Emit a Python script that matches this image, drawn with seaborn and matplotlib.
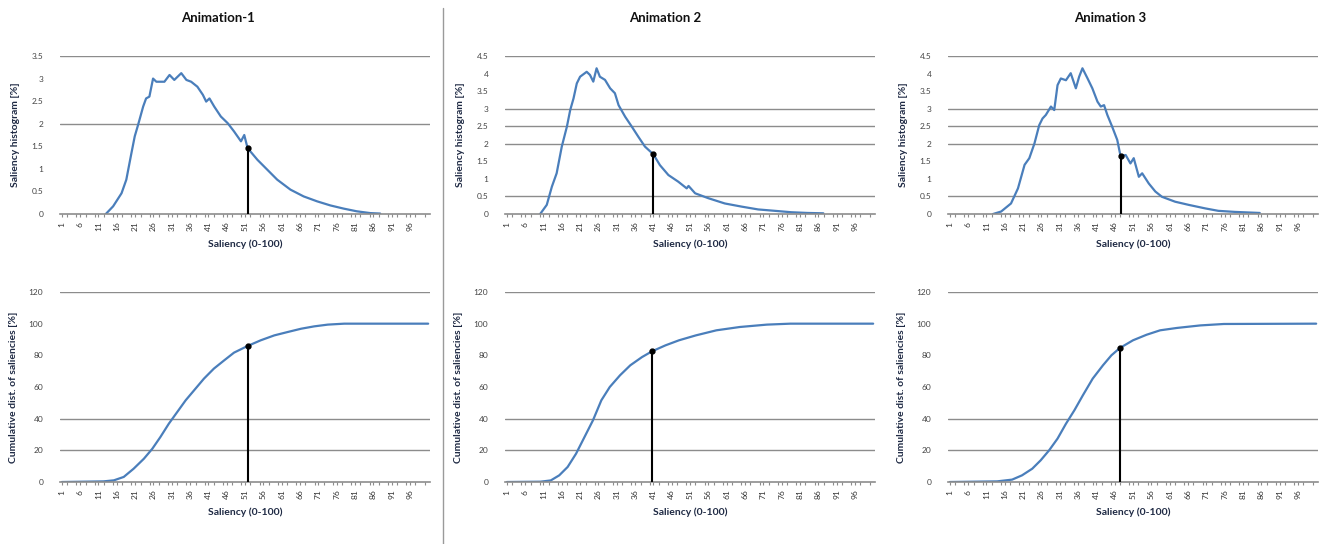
import numpy as np
import pandas as pd
import seaborn as sns
import matplotlib.pyplot as plt
from matplotlib.ticker import MultipleLocator

# ---- data (x = saliency bin, y = value) ----
titles = ["Animation-1", "Animation 2", "Animation 3"]

hist1_x = [13, 15, 17.3, 18.6, 20, 20.9, 21.8, 23.2, 24, 24.9, 25.9, 26.8, 29, 30.4, 31.7, 33.6, 35,
           36.3, 38, 39.5, 40.4, 41.3, 42.6, 44.4, 46.3, 48, 49.9, 50.8, 51.7, 54.4, 57.1, 59.8,
           63.4, 67, 70.7, 74.3, 77.9, 81.5, 85.2, 87.9]
hist1_y = [0, 0.17, 0.46, 0.76, 1.35, 1.72, 1.97, 2.38, 2.56, 2.6, 3.0, 2.93, 2.93, 3.08, 2.97, 3.12,
           2.97, 2.93, 2.82, 2.64, 2.49, 2.56, 2.38, 2.16, 2.01, 1.83, 1.61, 1.75, 1.46, 1.2, 0.98,
           0.76, 0.54, 0.39, 0.28, 0.19, 0.12, 0.06, 0.02, 0.01]

hist2_x = [10.1, 11.9, 13.3, 14.6, 16, 17.4, 18.3, 19.2, 20.1, 21, 22.8, 23.7, 24.6, 25.5, 26.4,
           27.8, 29.2, 30.5, 31.5, 33.3, 35.1, 36.9, 38.7, 41, 42.8, 45.1, 47.8, 50.1, 50.6, 52.4,
           56, 60.5, 65.1, 69.6, 74.2, 78.7, 83, 87.4]
hist2_y = [0, 0.26, 0.78, 1.16, 1.92, 2.49, 2.96, 3.29, 3.72, 3.91, 4.05, 3.96, 3.77, 4.15, 3.91,
           3.82, 3.58, 3.44, 3.1, 2.77, 2.49, 2.2, 1.92, 1.7, 1.39, 1.11, 0.92, 0.73, 0.8, 0.59,
           0.45, 0.3, 0.21, 0.13, 0.09, 0.05, 0.03, 0.02]

hist3_x = [12.8, 15, 17.7, 19.6, 21.4, 22.7, 24.1, 25.4, 26.3, 27.2, 28.6, 29.5, 30.4, 31.3, 32.7,
           34, 35.4, 36.3, 37.2, 38.6, 39.9, 41.3, 42.2, 43.1, 44, 45.3, 46.7, 47.6, 49, 50.3, 51.2,
           52.6, 53.5, 55.3, 57.1, 58.9, 62.5, 66.2, 70.7, 74.3, 78.8, 83.3, 85.6]
hist3_y = [0, 0.07, 0.3, 0.73, 1.4, 1.59, 2.01, 2.53, 2.72, 2.82, 3.06, 2.96, 3.67, 3.86, 3.81,
           4.01, 3.58, 3.91, 4.15, 3.86, 3.58, 3.2, 3.06, 3.1, 2.82, 2.49, 2.11, 1.65, 1.68, 1.44,
           1.59, 1.06, 1.16, 0.87, 0.64, 0.49, 0.35, 0.26, 0.16, 0.09, 0.06, 0.04, 0.03]

cum1_x = [1, 12.4, 15.2, 17.9, 20.6, 23.4, 25.7, 27.9, 30.2, 32.5, 34.8, 37.1, 39.8, 42.5, 45.3,
          48, 51.7, 55.3, 59, 62.6, 66.3, 69.9, 73.6, 78.1, 101]
cum1_y = [0, 0.4, 1.05, 3.2, 8.4, 14.7, 21, 28.4, 36.8, 44.2, 51.6, 57.9, 65.3, 71.6, 76.8,
          81.7, 85.9, 89.5, 92.6, 94.7, 96.8, 98.3, 99.4, 100, 100]

cum2_x = [1, 10.2, 13, 15.3, 17.6, 19.9, 22.2, 24.5, 26.8, 29.1, 31.9, 34.7, 37.9, 40.6, 44.3,
          48, 52.6, 58.2, 64.6, 72, 78.4, 101]
cum2_y = [0, 0.2, 1, 4.2, 9.5, 17.9, 28.4, 38.9, 51.6, 60, 67.4, 73.7, 78.9, 82.5, 86.3,
          89.5, 92.6, 95.8, 97.9, 99.4, 100, 100]

cum3_x = [1, 13.9, 18, 20.7, 23.5, 25.8, 28.1, 30.4, 32.7, 35, 37.3, 40, 42.8, 45.1, 47.4,
          51, 54.7, 58.4, 63, 69.4, 75.8, 101]
cum3_y = [0, 0.4, 1.5, 4.2, 8.4, 13.7, 20, 27.4, 36.8, 45.3, 54.7, 65.3, 73.7, 80, 84.6,
          89.5, 93, 95.8, 97.3, 98.9, 99.8, 100]

# highlighted point (bin, value) per panel
hist_marks = [(51.7, 1.46), (41, 1.7), (47.6, 1.65)]
cum_marks = [(51.7, 85.9), (40.6, 82.5), (47.4, 84.6)]

xtick_vals = list(range(1, 101, 5))
hist_yticks = [np.arange(0, 3.51, 0.5), np.arange(0, 4.51, 0.5), np.arange(0, 4.51, 0.5)]
hist_grid = [[2, 3.5], [0.5, 2, 2.5, 3, 4.5], [0.5, 2, 2.5, 3, 4.5]]
cum_yticks = list(range(0, 121, 20))
cum_grid = [20, 40, 120]

hist_ylabels = ["Saliency histogram [%]", "Saliency histogram [%]", "Saliency histogram [%]"]
cum_ylabels = ["Cumulative dist. of saliencies [%]", "Cumulative dist. of saliencies [%]",
               "Cumulative dist. of saliencies [%]"]
hist_xlabels = ["Saliency (0-100)", "Saliency (0-100)", "Saliency (0-100)"]
cum_xlabels = ["Saliency (0-100)", "Saliency (0-100)", "Saliency (0-100)"]

hists = [(hist1_x, hist1_y), (hist2_x, hist2_y), (hist3_x, hist3_y)]
cums = [(cum1_x, cum1_y), (cum2_x, cum2_y), (cum3_x, cum3_y)]

sns.set_theme(style="white")
plt.rcParams['font.family'] = ['Lato', 'DejaVu Sans']

blue = "#4a7ebb"
grid_c = "#8c8c8c"
label_c = "#1f2a44"

fig = plt.figure(figsize=(13.36, 5.44), dpi=100)
lefts = [60 / 1336, 505 / 1336, 948 / 1336]
w = 370 / 1336


def style_axes(ax, yticks, grid, xlabel, ylabel):
    ax.set_xlim(0.5, 101.5)
    ax.set_ylim(0, max(yticks))
    for g in grid:
        ax.axhline(g, color=grid_c, lw=1.0, zorder=0)
    for s in ["top", "right", "left"]:
        ax.spines[s].set_visible(False)
    ax.spines["bottom"].set_color(grid_c)
    ax.spines["bottom"].set_linewidth(1.2)
    ax.set_yticks(yticks)
    ax.set_yticklabels([("%g" % v) for v in yticks], fontsize=6, color="#444444")
    ax.set_xticks(xtick_vals)
    ax.set_xticklabels([str(v) for v in xtick_vals], rotation=90, fontsize=6, color="#333333")
    ax.xaxis.set_minor_locator(MultipleLocator(2.5))
    ax.tick_params(axis="x", which="both", bottom=True, direction="out", length=2.5,
                   width=0.8, color=grid_c, pad=3)
    ax.tick_params(axis="y", left=False, pad=6)
    ax.set_xlabel(xlabel, fontsize=7.5, fontweight="bold", color=label_c, labelpad=6)
    ax.set_ylabel(ylabel, fontsize=7.5, fontweight="bold", color=label_c, labelpad=8)


for i in range(3):
    ax_t = fig.add_axes([lefts[i], 1 - 214 / 544, w, 158 / 544])
    hx, hy = hists[i]
    df_h = pd.DataFrame({"bin": hx, "value": hy})
    sns.lineplot(data=df_h, x="bin", y="value", ax=ax_t, color=blue, lw=1.6)
    mx, my = hist_marks[i]
    ax_t.vlines(mx, 0, my, color="black", lw=1.5, zorder=4)
    ax_t.plot(mx, my, "o", color="black", ms=3.5, zorder=5)
    style_axes(ax_t, hist_yticks[i], hist_grid[i], hist_xlabels[i], hist_ylabels[i])

    ax_b = fig.add_axes([lefts[i], 1 - 482 / 544, w, 190 / 544])
    cx, cy = cums[i]
    df_c = pd.DataFrame({"bin": cx, "value": cy})
    sns.lineplot(data=df_c, x="bin", y="value", ax=ax_b, color=blue, lw=1.6)
    mx, my = cum_marks[i]
    ax_b.vlines(mx, 0, my, color="black", lw=1.5, zorder=4)
    ax_b.plot(mx, my, "o", color="black", ms=3.5, zorder=5)
    style_axes(ax_b, cum_yticks, cum_grid, cum_xlabels[i], cum_ylabels[i])

title_x = [218 / 1336, 665 / 1336, 1110 / 1336]
for tx, t in zip(title_x, titles):
    fig.text(tx, 1 - 18 / 544, t, ha="center", va="center", fontsize=9.5, fontweight="bold",
             color="#111111")

# separator between first and second column
fig.add_artist(plt.Line2D([443 / 1336, 443 / 1336], [0, 1 - 8 / 544], color="#9a9a9a", lw=1.0))

fig.savefig("out.png", dpi=100)
